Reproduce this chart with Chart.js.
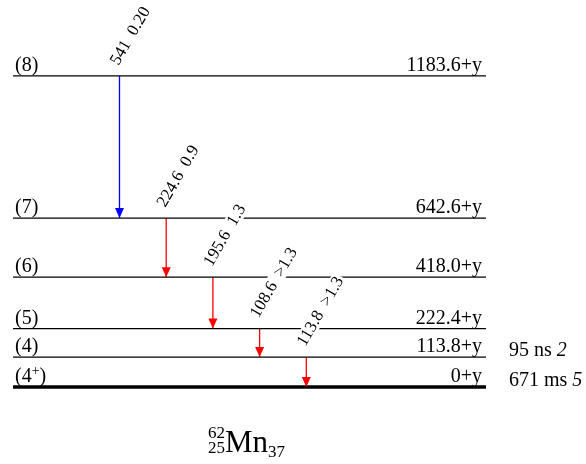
<!DOCTYPE html>
<html>
<head>
<meta charset="utf-8">
<script src="https://cdn.jsdelivr.net/npm/chart.js@4/dist/chart.umd.min.js"></script>
<style>
  html, body { margin: 0; padding: 0; background: #fff; }
  #wrap { width: 586px; height: 464px; }
</style>
</head>
<body>
<div id="wrap"><canvas id="scheme" width="586" height="464"></canvas></div>
<script>
// level scheme of 62Mn, energies in keV (relative to the isomer, +y)
const levelEnergies = [0, 113.8, 222.4, 418.0, 642.6, 1183.6];
const levelSpins = ['(4+)', '(4)', '(5)', '(6)', '(7)', '(8)'];
const levelLabels = ['0+y', '113.8+y', '222.4+y', '418.0+y', '642.6+y', '1183.6+y'];
const halfLives = ['671 ms', '95 ns', '', '', '', ''];
const halfLifeErrors = ['5', '2', '', '', '', ''];

// gamma transitions
const gammaEnergies = ['541', '224.6', '195.6', '108.6', '113.8'];
const gammaIntensities = ['0.20', '0.9', '1.3', '>1.3', '>1.3'];
const gammaFrom = [5, 4, 3, 2, 1];
const gammaTo = [4, 3, 2, 1, 0];
const gammaColors = ['#0000ff', '#ff0000', '#ff0000', '#ff0000', '#ff0000'];

const nucleus = {mass: '62', z: '25', symbol: 'Mn', n: '37'};

// horizontal layout (x scale runs 0..586)
const levelLeft = 13, levelRight = 486;
const firstGammaX = 119.5, gammaStep = 46.7;
const gammaX = gammaEnergies.map((g, i) => firstGammaX + i * gammaStep);

const serif = '"Liberation Serif", "Times New Roman", serif';

const datasets = [];
levelEnergies.forEach((e, i) => {
    datasets.push({
        data: [{x: levelLeft, y: e}, {x: levelRight, y: e}],
        borderColor: '#000',
        borderWidth: i === 0 ? 3.5 : 1.2,
        pointRadius: 0
    });
});
gammaEnergies.forEach((g, i) => {
    datasets.push({
        data: [{x: gammaX[i], y: levelEnergies[gammaFrom[i]]}, {x: gammaX[i], y: levelEnergies[gammaTo[i]]}],
        borderColor: gammaColors[i],
        borderWidth: 1.3,
        pointRadius: 0
    });
});

const schemePlugin = {
    id: 'scheme',
    afterDatasetsDraw(chart) {
        const ctx = chart.ctx;
        const xs = chart.scales.x, ys = chart.scales.y;
        ctx.save();

        // arrow heads
        gammaEnergies.forEach((g, i) => {
            const x = xs.getPixelForValue(gammaX[i]);
            const y = ys.getPixelForValue(levelEnergies[gammaTo[i]]);
            ctx.fillStyle = gammaColors[i];
            ctx.beginPath();
            ctx.moveTo(x, y);
            ctx.lineTo(x - 4.5, y - 10);
            ctx.lineTo(x + 4.5, y - 10);
            ctx.closePath();
            ctx.fill();
        });

        // level texts
        ctx.fillStyle = '#000';
        ctx.textBaseline = 'alphabetic';
        const big = '20px ' + serif;
        levelEnergies.forEach((e, i) => {
            const y = ys.getPixelForValue(e);
            const left = xs.getPixelForValue(levelLeft);
            const right = xs.getPixelForValue(levelRight);
            ctx.font = big;
            ctx.textAlign = 'left';
            const spin = levelSpins[i];
            if (spin.endsWith('+)')) {
                const core = spin.slice(0, -2);
                ctx.fillText(core, left + 2, y - 5);
                let w = ctx.measureText(core).width;
                ctx.font = '14px ' + serif;
                ctx.fillText('+', left + 2 + w, y - 12);
                w += ctx.measureText('+').width;
                ctx.font = big;
                ctx.fillText(')', left + 2 + w, y - 5);
            } else {
                ctx.fillText(spin, left + 2, y - 5);
            }
            ctx.textAlign = 'right';
            ctx.fillText(levelLabels[i], right - 4, y - 5);

            if (halfLives[i]) {
                ctx.textAlign = 'left';
                const hx = right + 23;
                const txt = halfLives[i] + ' ';
                ctx.fillText(txt, hx, y - 1);
                const w = ctx.measureText(txt).width;
                ctx.font = 'italic 20px ' + serif;
                ctx.fillText(halfLifeErrors[i], hx + w, y - 1);
            }
        });

        // gamma labels, rotated, on white boxes
        ctx.font = '17px ' + serif;
        gammaEnergies.forEach((g, i) => {
            const x = xs.getPixelForValue(gammaX[i]);
            const y = ys.getPixelForValue(levelEnergies[gammaFrom[i]]);
            const txt = g + '  ' + gammaIntensities[i];
            const w = ctx.measureText(txt).width;
            ctx.save();
            ctx.translate(x - 1, y - 10);
            ctx.rotate(-Math.PI / 3);
            ctx.fillStyle = '#fff';
            ctx.fillRect(-2, -13, w + 4, 16);
            ctx.fillStyle = '#000';
            ctx.textAlign = 'left';
            ctx.fillText(txt, 0, 0);
            ctx.restore();
        });

        // nucleus name
        const cx = 208, by = 452;
        ctx.textAlign = 'left';
        ctx.font = '17px ' + serif;
        const wm = ctx.measureText(nucleus.mass).width;
        const wz = ctx.measureText(nucleus.z).width;
        const ws = Math.max(wm, wz);
        ctx.fillText(nucleus.mass, cx + ws - wm, by - 14);
        ctx.fillText(nucleus.z, cx + ws - wz, by + 1);
        ctx.font = '31px ' + serif;
        ctx.fillText(nucleus.symbol, cx + ws, by);
        const wsym = ctx.measureText(nucleus.symbol).width;
        ctx.font = '17px ' + serif;
        ctx.fillText(nucleus.n, cx + ws + wsym, by + 5);

        ctx.restore();
    }
};

new Chart(document.getElementById('scheme'), {
    type: 'scatter',
    data: {datasets: datasets},
    options: {
        responsive: false,
        animation: false,
        showLine: true,
        layout: {padding: 0},
        plugins: {legend: {display: false}, tooltip: {enabled: false}, title: {display: false}},
        scales: {
            x: {type: 'linear', min: 0, max: 586, display: false},
            y: {type: 'linear', min: -293, max: 1472.6, display: false}
        },
        elements: {line: {tension: 0}}
    },
    plugins: [schemePlugin]
});
</script>
</body>
</html>
